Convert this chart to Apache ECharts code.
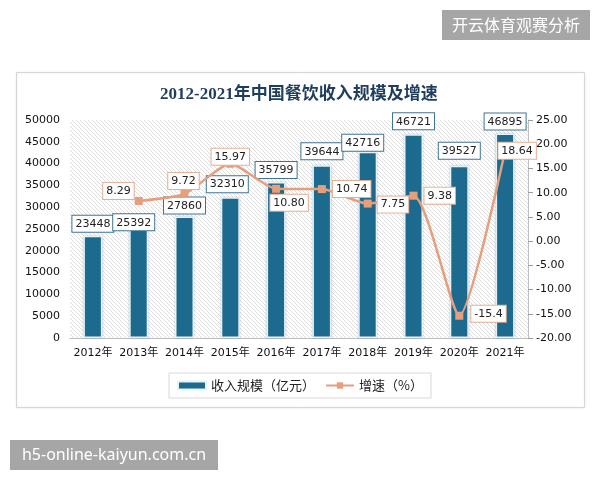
<!DOCTYPE html>
<html>
<head>
<meta charset="utf-8">
<script src="https://cdn.jsdelivr.net/npm/echarts@6/dist/echarts.min.js"></script>
<style>
  body { margin: 0; padding: 0; background: #fff; }
  #main { width: 600px; height: 480px; }
</style>
</head>
<body>
<div id="main"></div>
<script>
// 数据
var years = ["2012年", "2013年", "2014年", "2015年", "2016年", "2017年", "2018年", "2019年", "2020年", "2021年"];
var income = [23448, 25392, 27860, 32310, 35799, 39644, 42716, 46721, 39527, 46895];
var growth = ["-", 8.29, 9.72, 15.97, 10.80, 10.74, 7.75, 9.38, -15.4, 18.64];
var growthText = ["", "8.29", "9.72", "15.97", "10.80", "10.74", "7.75", "9.38", "-15.4", "18.64"];

// 标签位置（样式）
var barLabelPos = [
  { distance: 4 }, { distance: -3, offset: [-5, 0] }, { distance: 3 }, { distance: 5, offset: [-3, 0] },
  { distance: 4 }, { distance: 6 }, { distance: 1, offset: [-5, 0] }, { distance: 5 },
  { distance: 7 }, { distance: 4 }
];
var lineLabelPos = [
  null,
  { position: "left", distance: 1, offset: [0, -10] },
  { position: "top", distance: 1, offset: [-1, 0] },
  { position: "inside", offset: [0, -7] },
  { position: "bottom", distance: 2, offset: [13, 0] },
  { position: "right", distance: 7 },
  { position: "right", distance: 6, offset: [0, 1] },
  { position: "right", distance: 7 },
  { position: "right", distance: 8, offset: [0, -2] },
  { position: "inside", offset: [12, 0] }
];

// 斜线底纹
var hatch = document.createElement("canvas");
hatch.width = 8;
hatch.height = 8;
var ctx = hatch.getContext("2d");
ctx.fillStyle = "#ffffff";
ctx.fillRect(0, 0, 8, 8);
ctx.strokeStyle = "#dedede";
ctx.lineWidth = 1;
for (var c = -8; c <= 8; c += 4) {
  ctx.beginPath();
  ctx.moveTo(-1, -1 + c);
  ctx.lineTo(9, 9 + c);
  ctx.stroke();
}

var numFont = "DejaVu Sans";
var cjkFont = "Noto Sans CJK SC";

var barData = income.map(function (v, i) {
  return {
    value: v,
    label: Object.assign({}, barLabelPos[i])
  };
});
var lineData = growth.map(function (v, i) {
  if (!lineLabelPos[i]) return v;
  return {
    value: v,
    label: Object.assign({}, lineLabelPos[i])
  };
});

var myChart = echarts.init(document.getElementById("main"));
var option = {
  backgroundColor: "#ffffff",
  animation: false,
  title: {
    text: "2012-2021年中国餐饮收入规模及增速",
    left: 155,
    top: 81,
    textStyle: {
      color: "#1f3d5c",
      fontSize: 17,
      fontWeight: "bold",
      fontFamily: "Liberation Serif, " + cjkFont
    }
  },
  graphic: [
    {
      type: "rect",
      left: 16,
      top: 72,
      z: -10,
      shape: { width: 568, height: 335 },
      style: { fill: "#fff", stroke: "#d6d6d6", lineWidth: 1, shadowBlur: 3, shadowColor: "rgba(0,0,0,0.08)" }
    },
    {
      type: "group",
      left: 442,
      top: 10,
      children: [
        { type: "rect", shape: { width: 148, height: 30 }, style: { fill: "#a6a6a6" } },
        {
          type: "text", x: 74, y: 15,
          style: { text: "开云体育观赛分析", fill: "#fff", font: "16px " + cjkFont, align: "center", verticalAlign: "middle" }
        }
      ]
    },
    {
      type: "group",
      left: 10,
      top: 440,
      children: [
        { type: "rect", shape: { width: 208, height: 30 }, style: { fill: "#a6a6a6" } },
        {
          type: "text", x: 104, y: 15,
          style: { text: "h5-online-kaiyun.com.cn", fill: "#fff", font: "16px Noto Sans", align: "center", verticalAlign: "middle" }
        }
      ]
    }
  ],
  legend: {
    top: 373,
    left: "center",
    padding: [6, 8],
    itemGap: 10,
    itemWidth: 28,
    itemHeight: 8,
    borderColor: "#d9d9d9",
    borderWidth: 1,
    textStyle: { color: "#222", fontSize: 13, fontFamily: cjkFont },
    data: [
      { name: "收入规模（亿元）", icon: "rect" },
      { name: "增速（%）" }
    ]
  },
  grid: {
    left: 70,
    right: 72,
    top: 120,
    bottom: 142,
    show: true,
    borderWidth: 0,
    backgroundColor: { image: hatch, repeat: "repeat" }
  },
  xAxis: {
    type: "category",
    data: years,
    axisLine: { lineStyle: { color: "#bfbfbf", width: 1 } },
    axisTick: { show: false },
    axisLabel: { interval: 0, color: "#111", fontSize: 11, fontFamily: numFont + ", " + cjkFont, margin: 10 }
  },
  yAxis: [
    {
      type: "value",
      min: 0,
      max: 50000,
      interval: 5000,
      splitLine: { show: false },
      axisLine: { show: false },
      axisTick: { show: false },
      axisLabel: {
        color: "#111", fontSize: 11, fontFamily: numFont, margin: 10,
        formatter: function (v) { return String(v); }
      }
    },
    {
      type: "value",
      min: -20,
      max: 25,
      interval: 5,
      splitLine: { show: false },
      axisLine: { show: true, lineStyle: { color: "#bfbfbf" } },
      axisTick: { show: true, length: 5, lineStyle: { color: "#999" } },
      axisLabel: {
        color: "#111", fontSize: 11, fontFamily: numFont, margin: 8,
        formatter: function (v) { return v.toFixed(2); }
      }
    }
  ],
  series: [
    {
      name: "收入规模（亿元）",
      type: "bar",
      barWidth: 19,
      data: barData,
      itemStyle: {
        color: "#1c6a8e",
        borderColor: "#e8f1f6",
        borderWidth: 1.5,
        shadowBlur: 2,
        shadowColor: "rgba(60,120,160,0.35)"
      },
      label: {
        show: true,
        position: "top",
        color: "#222",
        fontSize: 11,
        fontFamily: numFont,
        backgroundColor: "#fff",
        borderColor: "#3f7594",
        borderWidth: 1,
        padding: [3, 3, 2, 3]
      }
    },
    {
      name: "增速（%）",
      type: "line",
      yAxisIndex: 1,
      data: lineData,
      smooth: 0.2,
      symbol: "rect",
      symbolSize: 8,
      z: 3,
      lineStyle: { color: "#e59f7d", width: 2.5 },
      itemStyle: { color: "#e59f7d" },
      label: {
        show: true,
        color: "#222",
        fontSize: 11,
        fontFamily: numFont,
        backgroundColor: "#fff",
        borderColor: "#e4ae93",
        borderWidth: 1,
        padding: [3, 3, 2, 3],
        formatter: function (p) { return growthText[p.dataIndex]; }
      }
    }
  ]
};
myChart.setOption(option);
</script>
</body>
</html>
